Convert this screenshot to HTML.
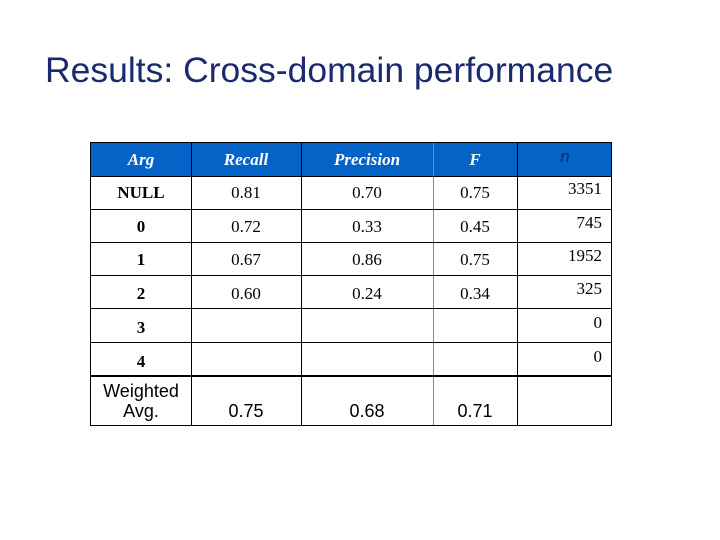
<!DOCTYPE html>
<html><head><style>
body{margin:0;width:720px;height:540px;background:#fff;position:relative;overflow:hidden}
.t{position:absolute;left:45px;top:50px;font:35.5px "Liberation Sans",sans-serif;color:#1a2a6c;white-space:nowrap}
.tb{position:absolute;left:90px;top:142px;width:522px;height:284px;border:1px solid #000;box-sizing:border-box}
.h{position:absolute;left:0;top:0;width:100%;height:33px;background:#0563c7}
.v{position:absolute;top:0;bottom:0;width:1px;background:#000}
.r{position:absolute;left:0;right:0;height:1px;background:#000}
.c{position:absolute;font:17px "Liberation Serif",serif;text-align:center;color:#000}
.hd{color:#fff;font-style:italic;font-weight:bold}
.s{font-family:"Liberation Sans",sans-serif;font-size:18px}
</style></head><body>
<div class="t">Results: Cross-domain performance</div>
<div class="tb">
<div class="h"></div>
<div class="v" style="left:100px"></div>
<div class="v" style="left:210px"></div>
<div class="v" style="left:342px;background:#888"></div>
<div class="v" style="left:426px"></div>
<div class="r" style="top:33px"></div>
<div class="r" style="top:66px"></div>
<div class="r" style="top:99px"></div>
<div class="r" style="top:132px"></div>
<div class="r" style="top:165px"></div>
<div class="r" style="top:199px"></div>
<div class="r" style="top:232px;height:2px"></div>

<div class="c hd" style="left:0;width:100px;top:7px">Arg</div>
<div class="c hd" style="left:100px;width:110px;top:7px">Recall</div>
<div class="c hd" style="left:210px;width:132px;top:7px">Precision</div>
<div class="c hd" style="left:342px;width:84px;top:7px">F</div>
<div class="c" style="left:426px;width:96px;top:4px;color:#1a2a6c;font:italic 17px 'Liberation Sans',sans-serif">n</div>

<div class="c" style="left:0;width:100px;top:40px;font-weight:bold">NULL</div>
<div class="c" style="left:100px;width:110px;top:40px">0.81</div>
<div class="c" style="left:210px;width:132px;top:40px">0.70</div>
<div class="c" style="left:342px;width:84px;top:40px">0.75</div>
<div class="c" style="right:9px;top:36px">3351</div>

<div class="c" style="left:0;width:100px;top:74px;font-weight:bold">0</div>
<div class="c" style="left:100px;width:110px;top:74px">0.72</div>
<div class="c" style="left:210px;width:132px;top:74px">0.33</div>
<div class="c" style="left:342px;width:84px;top:74px">0.45</div>
<div class="c" style="right:9px;top:70px">745</div>

<div class="c" style="left:0;width:100px;top:107px;font-weight:bold">1</div>
<div class="c" style="left:100px;width:110px;top:107px">0.67</div>
<div class="c" style="left:210px;width:132px;top:107px">0.86</div>
<div class="c" style="left:342px;width:84px;top:107px">0.75</div>
<div class="c" style="right:9px;top:103px">1952</div>

<div class="c" style="left:0;width:100px;top:141px;font-weight:bold">2</div>
<div class="c" style="left:100px;width:110px;top:141px">0.60</div>
<div class="c" style="left:210px;width:132px;top:141px">0.24</div>
<div class="c" style="left:342px;width:84px;top:141px">0.34</div>
<div class="c" style="right:9px;top:136px">325</div>

<div class="c" style="left:0;width:100px;top:175px;font-weight:bold">3</div>
<div class="c" style="right:9px;top:170px">0</div>
<div class="c" style="left:0;width:100px;top:209px;font-weight:bold">4</div>
<div class="c" style="right:9px;top:204px">0</div>

<div class="c s" style="left:0;width:100px;top:238px;line-height:20px">Weighted<br>Avg.</div>
<div class="c s" style="left:100px;width:110px;top:258px">0.75</div>
<div class="c s" style="left:210px;width:132px;top:258px">0.68</div>
<div class="c s" style="left:342px;width:84px;top:258px">0.71</div>
</div>
</body></html>
